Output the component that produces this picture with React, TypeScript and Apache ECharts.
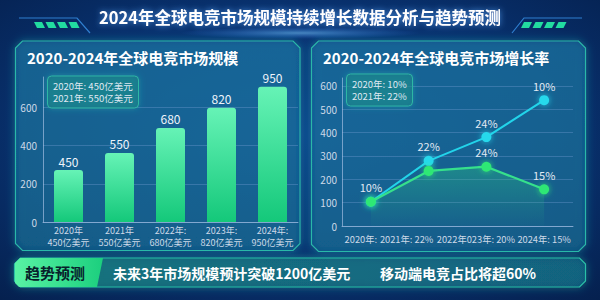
import React, { useEffect, useRef } from "react";
import * as echarts from "echarts";

// ---------- data ----------
const mainTitle = "2024年全球电竞市场规模持续增长数据分析与趋势预测";
const sizeTitle = "2020-2024年全球电竞市场规模";
const growthTitle = "2020-2024年全球电竞市场增长率";

const sizeCategories = ["2020年\n450亿美元", "2021年\n550亿美元", "2022年:\n680亿美元", "2023年:\n820亿美元", "2024年:\n950亿美元"];
const sizeBarValues = [272, 362, 493, 599, 709]; // bar heights as read against the left axis
const sizeBarLabels = ["450", "550", "680", "820", "950"];
const sizeNotes = ["2020年: 450亿美元", "2021年: 550亿美元"];
const sizeAxisMax = 760;
const sizeAxisInterval = 200;

const growthCategories = ["2020年:", "2021年: 22%", "2022年023年: 20%", "2024年: 15%"];
const growthCyanValues = [104, 279, 381, 539];
const growthCyanLabels = ["", "22%", "24%", "10%"];
const growthGreenValues = [104, 236, 254, 157];
const growthGreenLabels = ["10%", "", "24%", "15%"];
const growthNotes = ["2020年: 10%", "2021年: 22%"];
const growthAxisMax = 634;
const growthAxisInterval = 100;

const trendTag = "趋势预测";
const trendItems = ["未来3年市场规模预计突破1200亿美元", "移动端电竞占比将超60%"];

const FONT = '"Noto Sans CJK SC", "Noto Sans", sans-serif';

function chamfer(x1: number, y1: number, x2: number, y2: number, c: number) {
  return [
    [x1 + c, y1], [x2 - c, y1], [x2, y1 + c], [x2, y2 - c],
    [x2 - c, y2], [x1 + c, y2], [x1, y2 - c], [x1, y1 + c],
  ];
}

function buildOption() {
  const G = echarts.graphic;
  const panelFill = new G.LinearGradient(0, 0, 0, 1, [
    { offset: 0, color: "rgba(22,82,156,0.55)" },
    { offset: 1, color: "rgba(14,66,136,0.55)" },
  ]);
  const panelStyle = (fill: any) => ({
    fill,
    stroke: "#2bb8a8",
    lineWidth: 1.2,
    shadowBlur: 8,
    shadowColor: "rgba(40,210,200,0.55)",
  });

  const stripes: any[] = [];
  for (let i = 0; i < 4; i++) {
    const xl = 34 + i * 11.5;
    stripes.push({
      type: "polygon", z: -5, silent: true,
      shape: { points: [[xl, 22], [xl + 8, 22], [xl + 11, 28], [xl + 3, 28]] },
      style: { fill: "#22dca0" },
    });
    const xr = 521 + i * 11.5;
    stripes.push({
      type: "polygon", z: -5, silent: true,
      shape: { points: [[xr + 3, 22], [xr + 11, 22], [xr + 8, 28], [xr, 28]] },
      style: { fill: "#22dca0" },
    });
  }

  const graphic: any[] = [
    {
      type: "rect", z: -20, silent: true,
      shape: { x: 0, y: 0, width: 600, height: 300 },
      style: {
        fill: new G.RadialGradient(0.5, 0.45, 0.75, [
          { offset: 0, color: "#0d4088" },
          { offset: 0.6, color: "#08306c" },
          { offset: 1, color: "#05204e" },
        ]),
      },
    },
    {
      type: "ellipse", z: -15, silent: true,
      shape: { cx: 300, cy: 33, rx: 120, ry: 6 },
      style: {
        fill: new G.RadialGradient(0.5, 0.5, 0.5, [
          { offset: 0, color: "rgba(120,200,255,0.55)" },
          { offset: 1, color: "rgba(60,140,255,0)" },
        ]),
      },
    },
    {
      type: "line", z: -5, silent: true,
      shape: { x1: 90, y1: 33, x2: 512, y2: 33 },
      style: {
        stroke: new G.LinearGradient(0, 0, 1, 0, [
          { offset: 0, color: "rgba(50,130,230,0.5)" },
          { offset: 0.5, color: "rgba(200,240,255,1)" },
          { offset: 1, color: "rgba(50,130,230,0.5)" },
        ]),
        lineWidth: 1.2,
      },
    },
    {
      type: "polyline", z: -5, silent: true,
      shape: { points: [[19, 18], [77, 18], [90, 33]] },
      style: { stroke: "#2f7fd0", lineWidth: 1.2, fill: "none" },
    },
    {
      type: "polyline", z: -5, silent: true,
      shape: { points: [[512, 33], [524, 18], [582, 18]] },
      style: { stroke: "#2f7fd0", lineWidth: 1.2, fill: "none" },
    },
    ...stripes,
    {
      type: "polygon", z: -10, silent: true,
      shape: { points: chamfer(15.5, 41, 300, 250.5, 7) },
      style: panelStyle(panelFill),
    },
    {
      type: "polygon", z: -10, silent: true,
      shape: { points: chamfer(311.5, 41, 585.5, 251.5, 7) },
      style: panelStyle(panelFill),
    },
    {
      type: "polygon", z: -10, silent: true,
      shape: { points: chamfer(14.5, 258, 585.5, 287, 6) },
      style: {
        fill: new G.LinearGradient(0, 0, 1, 0, [
          { offset: 0, color: "rgba(18,114,122,0.78)" },
          { offset: 1, color: "rgba(16,88,128,0.72)" },
        ]),
        stroke: "#2bc0a6",
        lineWidth: 1.2,
        shadowBlur: 8,
        shadowColor: "rgba(40,210,180,0.5)",
      },
    },
    {
      type: "polygon", z: 5, silent: true,
      shape: { points: [[15, 263], [20, 258], [103, 258], [97, 287], [19, 287], [15, 283]] },
      style: {
        fill: new G.LinearGradient(0, 0, 1, 0, [
          { offset: 0, color: "#58f2a4" },
          { offset: 1, color: "#1ccf7e" },
        ]),
      },
    },
    {
      type: "text", z: 6, silent: true,
      style: {
        text: trendTag, x: 55, y: 272.5, fill: "#07202a",
        font: `bold 15px ${FONT}`,
        align: "center", verticalAlign: "middle",
        textAlign: "center", textVerticalAlign: "middle",
      },
    },
    {
      type: "text", z: 6, silent: true,
      style: {
        text: trendItems[0], x: 113, y: 273, fill: "#ffffff",
        font: `bold 14px ${FONT}`,
        align: "left", verticalAlign: "middle",
        textAlign: "left", textVerticalAlign: "middle",
      },
    },
    {
      type: "text", z: 6, silent: true,
      style: {
        text: trendItems[1], x: 380, y: 273, fill: "#ffffff",
        font: `bold 14px ${FONT}`,
        align: "left", verticalAlign: "middle",
        textAlign: "left", textVerticalAlign: "middle",
      },
    },
  ];

  const noteStyle = {
    padding: [3.5, 6],
    borderColor: "#2fb7a4",
    borderWidth: 1,
    borderRadius: 4,
    backgroundColor: "rgba(28,118,128,0.55)",
    shadowBlur: 6,
    shadowColor: "rgba(40,210,190,0.5)",
    textStyle: { fontSize: 9.5, lineHeight: 12.5, color: "#dfe8f2", fontWeight: "normal", fontFamily: FONT },
  };

  const axisLineColor = "rgba(170,195,230,0.65)";
  const splitColor = "rgba(120,160,215,0.35)";
  const labelColor = "#cdd9e8";

  const growthLabelPad = [20, 44, 21, 0];

  return {
    animation: false,
    textStyle: { fontFamily: FONT },
    graphic,
    title: [
      {
        text: mainTitle, left: "center", top: 9, padding: 0,
        textStyle: {
          fontSize: 16.5, fontWeight: "bold", color: "#ffffff", fontFamily: FONT,
          textShadowColor: "rgba(90,170,255,0.8)", textShadowBlur: 6,
        },
      },
      {
        text: sizeTitle, left: 27, top: 50, padding: 0,
        textStyle: { fontSize: 15, fontWeight: "bold", color: "#ffffff", fontFamily: FONT },
      },
      {
        text: growthTitle, left: 323, top: 50, padding: 0,
        textStyle: { fontSize: 15, fontWeight: "bold", color: "#ffffff", fontFamily: FONT },
      },
      { text: sizeNotes.join("\n"), left: 47, top: 76, ...noteStyle },
      { text: growthNotes.join("\n"), left: 346, top: 74, ...noteStyle },
    ],
    grid: [
      { left: 43, right: 302, top: 77, bottom: 78 },
      { left: 342, right: 27, top: 78, bottom: 74 },
    ],
    xAxis: [
      {
        type: "category", gridIndex: 0, data: sizeCategories,
        axisLine: { lineStyle: { color: axisLineColor } },
        axisTick: { show: false },
        axisLabel: { color: labelColor, fontSize: 9, lineHeight: 12, margin: 2, interval: 0 },
      },
      {
        type: "category", gridIndex: 1, boundaryGap: true,
        data: growthCategories.map((c, i) => ({
          value: c,
          textStyle: { padding: [0, growthLabelPad[i], 0, 0] },
        })),
        axisLine: { lineStyle: { color: axisLineColor } },
        axisTick: { show: false },
        axisLabel: { color: labelColor, fontSize: 9.3, margin: 8, interval: 0 },
      },
    ],
    yAxis: [
      {
        type: "value", gridIndex: 0, min: 0, max: sizeAxisMax, interval: sizeAxisInterval,
        axisLine: { show: true, lineStyle: { color: axisLineColor } },
        axisTick: { show: false },
        axisLabel: { color: labelColor, fontSize: 10, margin: 6, showMaxLabel: false },
        splitLine: { show: true, showMaxLine: false, lineStyle: { color: splitColor } },
      },
      {
        type: "value", gridIndex: 1, min: 0, max: growthAxisMax, interval: growthAxisInterval,
        axisLine: { show: true, lineStyle: { color: axisLineColor } },
        axisTick: { show: false },
        axisLabel: { color: labelColor, fontSize: 10, margin: 5, showMaxLabel: false },
        splitLine: { show: true, showMaxLine: false, lineStyle: { color: splitColor } },
      },
    ],
    series: [
      {
        type: "bar", xAxisIndex: 0, yAxisIndex: 0, data: sizeBarValues, barWidth: 29,
        itemStyle: {
          borderRadius: [3, 3, 0, 0],
          color: new G.LinearGradient(0, 0, 0, 1, [
            { offset: 0, color: "#66f3b6" },
            { offset: 1, color: "#14c87a" },
          ]),
        },
        label: {
          show: true, position: "top", distance: 3,
          color: "#eef4fb", fontSize: 12,
          formatter: (p: any) => sizeBarLabels[p.dataIndex],
        },
      },
      {
        type: "line", xAxisIndex: 1, yAxisIndex: 1, data: growthCyanValues,
        symbol: "circle", symbolSize: 10,
        lineStyle: { color: "#22d4ea", width: 2 },
        itemStyle: { color: "#26d9ec", shadowBlur: 6, shadowColor: "rgba(40,220,240,0.8)" },
        label: {
          show: true, position: "top", distance: 4,
          color: "#e2eaf4", fontSize: 11,
          formatter: (p: any) => growthCyanLabels[p.dataIndex],
        },
        z: 3,
      },
      {
        type: "line", xAxisIndex: 1, yAxisIndex: 1, data: growthGreenValues,
        symbol: "circle", symbolSize: 10,
        lineStyle: { color: "#36e08c", width: 2.2 },
        itemStyle: { color: "#2fe874", shadowBlur: 6, shadowColor: "rgba(50,240,120,0.8)" },
        areaStyle: {
          color: new G.LinearGradient(0, 0, 0, 1, [
            { offset: 0, color: "rgba(45,205,130,0.5)" },
            { offset: 1, color: "rgba(45,205,130,0.03)" },
          ]),
        },
        label: {
          show: true, position: "top", distance: 4,
          color: "#e2eaf4", fontSize: 11,
          formatter: (p: any) => growthGreenLabels[p.dataIndex],
        },
        z: 4,
      },
    ],
  };
}

export default function App() {
  const ref = useRef<HTMLDivElement>(null);
  useEffect(() => {
    if (!ref.current) return;
    const chart = echarts.init(ref.current, undefined, { renderer: "svg" });
    chart.setOption(buildOption() as any);
    return () => chart.dispose();
  }, []);
  return (
    <div
      ref={ref}
      style={{ position: "fixed", left: 0, top: 0, width: 600, height: 300, background: "#072a60" }}
    />
  );
}
